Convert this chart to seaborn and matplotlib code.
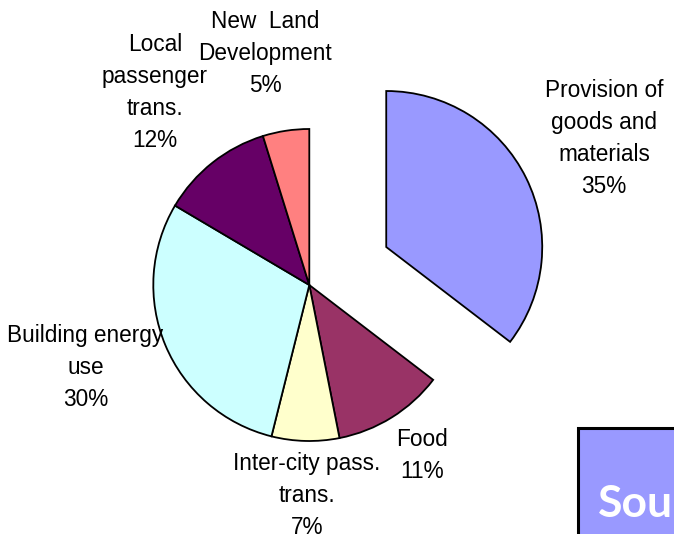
import matplotlib
matplotlib.use("Agg")
import matplotlib.pyplot as plt
import matplotlib.patches as mpatches
import numpy as np
import seaborn as sns

categories = ["Provision of\ngoods and\nmaterials", "Food", "Inter-city pass.\ntrans.",
              "Building energy\nuse", "Local\npassenger\ntrans.", "New  Land\nDevelopment"]
values = [35.4, 11.5, 7.0, 29.6, 11.7, 4.8]
pct_labels = ["35%", "11%", "7%", "30%", "12%", "5%"]
colors = ["#9999FF", "#993366", "#FFFFCC", "#CCFFFF", "#660066", "#FF8080"]
explode_frac = [0.55, 0, 0, 0, 0, 0]
label_dist = [1.56, 1.31, 1.35, 1.53, 1.58, 1.51]
label_turn = [-0.2, -1.6, -0.8, 2.4, -0.4, -2.2]   # degrees, clockwise
source_text = "Sou"

sns.set_theme(style="white")
plt.rcParams['font.family'] = ['Liberation Sans', 'DejaVu Sans']

W, H = 674, 534
fig = plt.figure(figsize=(W / 100, H / 100), dpi=100)
ax = fig.add_axes([0, 0, 1, 1])

R = 156
cx, cy = 309.3, H - 285
wedges, texts = ax.pie(values, colors=colors, explode=[e * R for e in explode_frac],
                       startangle=90, counterclock=False, radius=R, center=(cx, cy),
                       labels=[f"{c}\n{p}" for c, p in zip(categories, pct_labels)],
                       wedgeprops=dict(edgecolor="black", linewidth=1.3),
                       frame=True)
ax.set_xlim(0, W)
ax.set_ylim(0, H)
ax.set_aspect('equal')
ax.axis('off')

for w, t, ld, turn in zip(wedges, texts, label_dist, label_turn):
    ang = np.deg2rad((w.theta1 + w.theta2) / 2 - turn)
    ox, oy = w.center
    t.set_position((ox + R * ld * np.cos(ang), oy + R * ld * np.sin(ang)))
    t.set_ha("center")
    t.set_va("center")
    t.set_multialignment("center")
    t.set_fontsize(16.3)
    t.set_linespacing(1.5)
    t.set_color("black")

rect = mpatches.Rectangle((578, -20), 200, H - 428 + 20, facecolor="#9999FF",
                          edgecolor="black", linewidth=2.2, zorder=5)
ax.add_patch(rect)
ax.text(598, 17, source_text, color="white", fontsize=32, fontweight="bold",
        family=["Lato", "DejaVu Sans"], ha="left", va="baseline", zorder=6)

fig.savefig("out.png", dpi=100)
